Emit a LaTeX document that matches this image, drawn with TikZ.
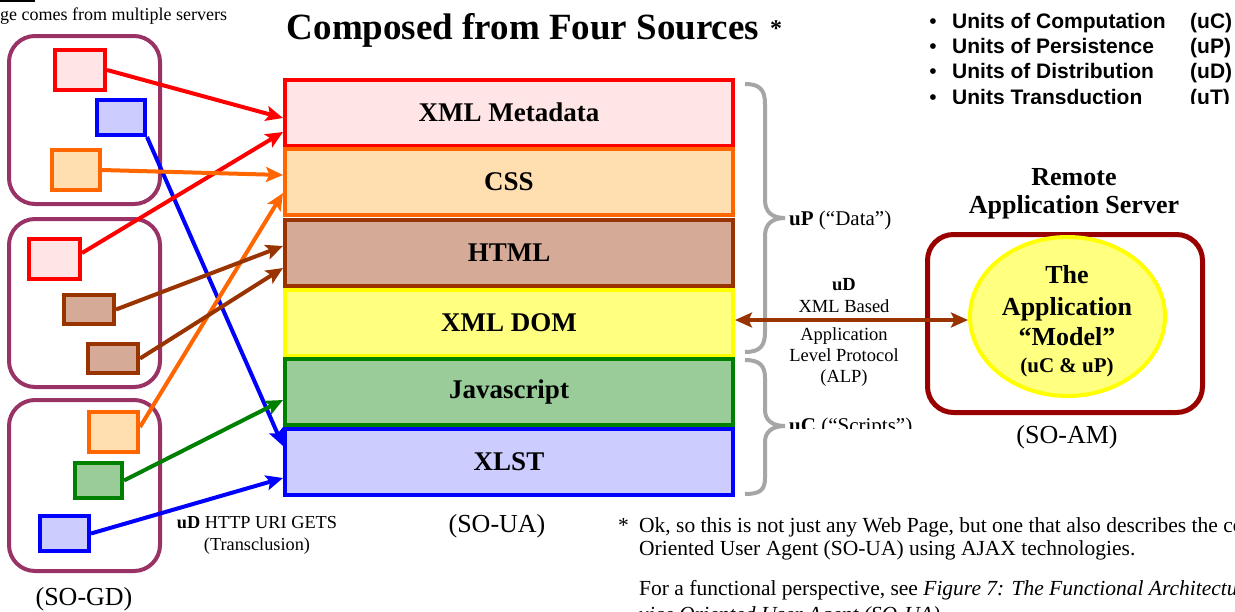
\documentclass[tikz,border=0pt]{standalone}
\usepackage{fontspec}
\setmainfont{Liberation Serif}
\newfontfamily\sansb{Liberation Sans}
\usetikzlibrary{arrows.meta,shapes.geometric}
\newcommand\fsz[1]{\fontsize{#1pt}{#1pt}\selectfont}
\definecolor{grpc}{HTML}{993366}
\definecolor{redc}{HTML}{FF0000}
\definecolor{pinkf}{HTML}{FFE5E5}
\definecolor{bluc}{HTML}{0000FF}
\definecolor{bluf}{HTML}{CCCCFF}
\definecolor{orgc}{HTML}{FF6600}
\definecolor{orgf}{HTML}{FFDFAF}
\definecolor{brnc}{HTML}{993300}
\definecolor{brnf}{HTML}{D5AB97}
\definecolor{grnc}{HTML}{008000}
\definecolor{grnf}{HTML}{99CC99}
\definecolor{ylwc}{HTML}{FFFF00}
\definecolor{ylwf}{HTML}{FFFF80}
\definecolor{srvc}{HTML}{990000}
\definecolor{brcc}{HTML}{A6A6A6}
\tikzset{
  grp/.style={draw=grpc, line width=4pt, rounded corners=26pt, minimum width=151pt, inner sep=0pt},
  sbox/.style={line width=4pt, inner sep=0pt},
  layer/.style={line width=4pt, minimum width=448pt, minimum height=66pt, inner sep=0pt, font=\fsz{27}\bfseries},
  tipA/.tip={Stealth[length=17pt,width=15pt,inset=3.5pt]},
  arr/.style={line width=4pt, -tipA},
  txt/.style={inner sep=0pt, anchor=base},
  brc/.style={draw=brcc, line width=4pt},
}
\begin{document}
\begin{tikzpicture}[x=1pt,y=-1pt]
\useasboundingbox (0,0) rectangle (1235,611);
\fill[white] (0,0) rectangle (1235,611);

% top-left fragment
\draw[line width=2pt] (0,1) -- (35,1);
\node[txt, anchor=base west, font=\fsz{18}] (note) at (0,20) {ge comes from multiple servers};

% title
\node[txt, font=\fsz{37}\bfseries] (title) at (523,39) {Composed from Four Sources};
\node[txt, anchor=base west, font=\fsz{24}\bfseries] (star) at (770,36) {*};

% bullet list
\begin{scope}
\clip (900,0) rectangle (1235,103);
\foreach \yy/\aa/\bb [count=\i] in {28/Units of Computation/(uC), 53/Units of Persistence/(uP), 78/Units of Distribution/(uD), 104/Units Transduction/(uT)} {
  \node[txt, font=\sansb\fsz{21}] (bul\i) at (933,\yy) {\textbullet};
  \node[txt, anchor=base west, font=\sansb\fsz{21}\bfseries] (unit\i) at (952,\yy) {\aa};
  \node[txt, anchor=base west, font=\sansb\fsz{21}\bfseries] (abbr\i) at (1190,\yy) {\bb};
}
\end{scope}

% server groups
\node[grp, minimum height=168pt] (grpA) at (84.5,120) {};
\node[grp, minimum height=168pt] (grpB) at (84.5,303) {};
\node[grp, minimum height=171pt] (grpC) at (84.5,485.5) {};

% small boxes
\node[sbox, draw=redc, fill=pinkf, minimum width=50pt, minimum height=40pt] (r1) at (80,70) {};
\node[sbox, draw=bluc, fill=bluf, minimum width=48pt, minimum height=35pt] (b1) at (121,117.5) {};
\node[sbox, draw=orgc, fill=orgf, minimum width=48pt, minimum height=40pt] (o1) at (76,170) {};
\node[sbox, draw=redc, fill=pinkf, minimum width=51pt, minimum height=40pt] (r2) at (54.5,259) {};
\node[sbox, draw=brnc, fill=brnf, minimum width=50pt, minimum height=29pt] (h1) at (89,309.5) {};
\node[sbox, draw=brnc, fill=brnf, minimum width=50pt, minimum height=29pt] (h2) at (113,358.5) {};
\node[sbox, draw=orgc, fill=orgf, minimum width=49pt, minimum height=40pt] (o3) at (113.5,432) {};
\node[sbox, draw=grnc, fill=grnf, minimum width=47pt, minimum height=35pt] (g3) at (98.5,480.5) {};
\node[sbox, draw=bluc, fill=bluf, minimum width=49pt, minimum height=35pt] (b3) at (64.5,533.5) {};

% layers
\node[layer, draw=redc, fill=pinkf] (meta) at (509,112.5) {XML Metadata};
\node[layer, draw=orgc, fill=orgf] (css) at (509,182) {CSS};
\node[layer, draw=brnc, fill=brnf] (html) at (509,253) {HTML};
\node[layer, draw=ylwc, fill=ylwf] (dom) at (509,322.5) {XML DOM};
\node[layer, draw=grnc, fill=grnf] (js) at (509,392) {Javascript};
\node[layer, draw=bluc, fill=bluf] (xlst) at (509,462) {XLST};

% arrows from sources
\draw[arr, draw=bluc] (b1.south east) -- (xlst.west |- 0,446);
\draw[arr, draw=redc] (r1.east) -- (meta.west |- 0,118);
\draw[arr, draw=redc] ([yshift=6pt]r2.east) -- (meta.west |- 0,132);
\draw[arr, draw=orgc] (o1.east) -- (css.west |- 0,175);
\draw[arr, draw=orgc] ([yshift=5pt]o3.east) -- (css.west |- 0,193);
\draw[arr, draw=brnc] (h1.east) -- (html.west |- 0,246);
\draw[arr, draw=brnc] (h2.east) -- (html.west |- 0,268);
\draw[arr, draw=grnc] (g3.east) -- (js.west |- 0,400);
\draw[arr, draw=bluc] (b3.east) -- (xlst.west |- 0,478);

% braces
\draw[brc] (745,84) .. controls (760,84) and (765,90) .. (765,104) -- (765,200)
  .. controls (765,212) and (772,218) .. (785,218)
  .. controls (772,218) and (765,224) .. (765,236) -- (765,332)
  .. controls (765,346) and (760,352) .. (745,352);
\draw[brc] (745,360) .. controls (760,360) and (765,366) .. (765,378) -- (765,410)
  .. controls (765,420) and (772,426) .. (785,426)
  .. controls (772,426) and (765,432) .. (765,442) -- (765,478)
  .. controls (765,490) and (760,494) .. (745,494);
\node[txt, anchor=base west, font=\fsz{21}] (uplab) at (789,225) {\textbf{uP} (“Data”)};
\begin{scope}
\clip (780,400) rectangle (940,428);
\node[txt, anchor=base west, font=\fsz{21}] (uclab) at (789,432) {\textbf{uC} (“Scripts”)};
\end{scope}

% ALP labels
\node[txt, font=\fsz{18.5}\bfseries] (alp1) at (844,290) {uD};
\node[txt, font=\fsz{18.5}] (alp2) at (844,312) {XML Based};
\node[txt, font=\fsz{18.5}] (alp3) at (844,340) {Application};
\node[txt, font=\fsz{18.5}] (alp4) at (844,361) {Level Protocol};
\node[txt, font=\fsz{18.5}] (alp5) at (844,382) {(ALP)};

% remote server
\node[txt, font=\fsz{26}\bfseries] (rs1) at (1074,185) {Remote};
\node[txt, font=\fsz{26}\bfseries] (rs2) at (1074,213) {Application Server};
\node[draw=srvc, line width=5pt, rounded corners=26pt, minimum width=275pt, minimum height=178pt, inner sep=0pt] (server) at (1065,323.5) {};
\node[ellipse, draw=ylwc, fill=ylwf, line width=4pt, minimum width=195pt, minimum height=159pt, inner sep=0pt] (model) at (1067.5,316.5) {};
\node[txt, font=\fsz{26}\bfseries] (m1) at (1067,283) {The};
\node[txt, font=\fsz{26}\bfseries] (m2) at (1067,315) {Application};
\node[txt, font=\fsz{26}\bfseries] (m3) at (1067,345) {“Model”};
\node[txt, font=\fsz{21}\bfseries] (m4) at (1067,372) {(uC \& uP)};
\node[txt, font=\fsz{26}] (soam) at (1067,443) {(SO-AM)};

% ALP arrow
\draw[line width=4pt, draw=brnc, tipA-tipA] (dom.east |- 0,320) -- (model.west |- 0,320);

% bottom labels
\node[txt, font=\fsz{26}] (soua) at (497,532) {(SO-UA)};
\node[txt, font=\fsz{26}] (sogd) at (84,605) {(SO-GD)};
\node[txt, font=\fsz{18.3}] (http1) at (257,528) {\textbf{uD} HTTP URI GETS};
\node[txt, font=\fsz{18.3}] (http2) at (257,550) {(Transclusion)};

% footnote
\node[txt, anchor=base west, font=\fsz{21.5}] (fstar) at (618,532) {*};
\node[txt, anchor=base west, font=\fsz{21.5}] (f1) at (639,532) {Ok, so this is not just any Web Page, but one that also describes the co};
\node[txt, anchor=base west, font=\fsz{21.5}] (f2) at (639,555) {Oriented User Agent (SO-UA) using AJAX technologies.};
\node[txt, anchor=base west, font=\fsz{21.5}] (f3) at (639,595) {For a functional perspective, see \textit{Figure 7: The Functional Architectu}};
\node[txt, anchor=base west, font=\fsz{21.5}] (f4) at (639,621) {\textit{vice Oriented User Agent (SO-UA)}};
\end{tikzpicture}
\end{document}
